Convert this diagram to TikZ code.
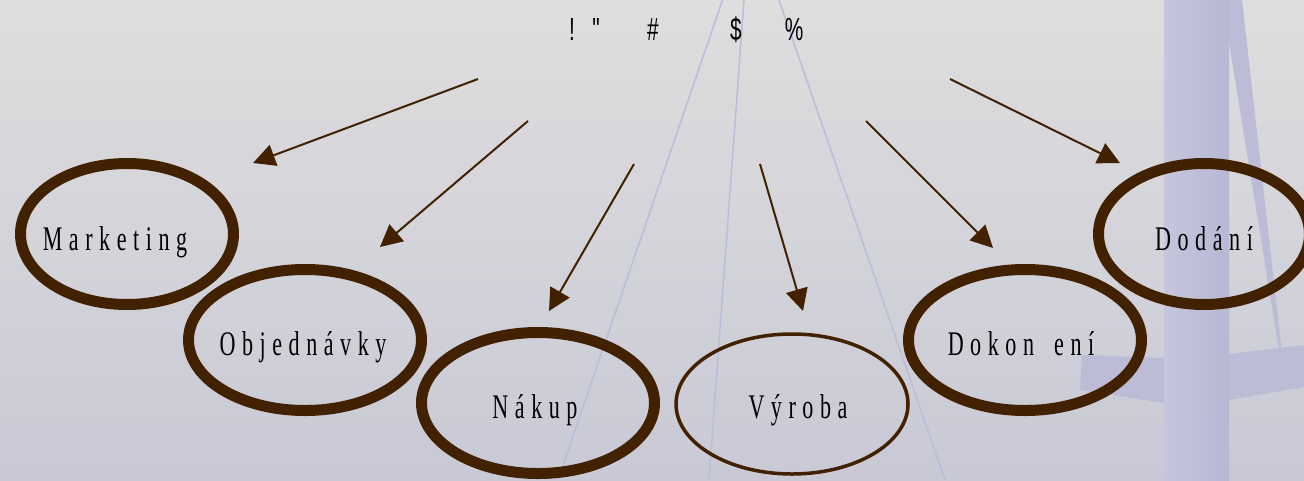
\documentclass[tikz,border=0pt]{standalone}
\usepackage{fontspec}
\usetikzlibrary{arrows.meta,shapes.geometric}
\newfontfamily\lblfont[FakeStretch=0.64,LetterSpace=19]{Liberation Serif}
\newfontfamily\topfont[FakeStretch=0.65]{Liberation Sans}
\definecolor{brn}{RGB}{66,33,0}
\definecolor{lav}{RGB}{188,188,218}
\definecolor{barl}{RGB}{198,197,221}
\definecolor{barr}{RGB}{184,184,212}
\definecolor{bandc}{RGB}{189,188,215}
\definecolor{bgtop}{RGB}{222,222,222}
\definecolor{bgbot}{RGB}{201,201,214}
\begin{document}
\begin{tikzpicture}[x=1pt,y=-1pt,
  ell/.style={draw=brn, ellipse, line width=11pt, inner sep=0pt},
  thinell/.style={draw=brn, ellipse, line width=3.5pt, inner sep=0pt},
  lbl/.style={anchor=base, inner sep=0pt, font=\lblfont\fontsize{34.5}{40}\selectfont},
  sym/.style={anchor=base, inner sep=0pt, font=\topfont\fontsize{32}{36}\selectfont},
  arr/.style={draw=brn, line width=2pt, -{Triangle[length=22pt,width=22pt]}},
  bgline/.style={draw=lav, line width=1.5pt}]
\useasboundingbox (0,0) rectangle (1304,480);
% background
\shade[top color=bgtop, bottom color=bgbot] (0,0) rectangle (1304,480);
\draw[bgline] (722.5,0) -- (558,480);
\draw[bgline] (744,0) -- (709,480);
\draw[bgline] (779,0) -- (945,480);
\fill[bandc] (1222,0) -- (1242,0) -- (1283,362) -- (1279,350) -- cycle;
\fill[bandc] (1082,355) -- (1164,358) -- (1164,403) -- (1080,390) -- cycle;
\fill[bandc] (1229,354) -- (1304,345) -- (1304,387) -- (1229,400) -- cycle;
\shade[left color=barl, right color=barr] (1164,0) rectangle (1229,480);
% top symbols
\node[sym] (t1) at (572,40) {!};
\node[sym] (t2) at (596,40) {\char"22};
\node[sym] (t3) at (653,40) {\#};
\node[sym] (t4) at (736,40) {\$};
\node[sym] (t5) at (794,40) {\%};
% ellipses
\node[ell, minimum width=213pt, minimum height=141pt] (mk) at (127,234) {};
\node[ell, minimum width=233pt, minimum height=141pt] (ob) at (305,340) {};
\node[ell, minimum width=233pt, minimum height=141pt] (na) at (538,403) {};
\node[thinell, minimum width=232pt, minimum height=140pt] (vy) at (792,404) {};
\node[ell, minimum width=233pt, minimum height=141pt] (dk) at (1025,340) {};
\node[ell, minimum width=211pt, minimum height=141pt] (dd) at (1204,234) {};
% labels
\node[lbl] (lmk) at (115,250) {Marketing};
\node[lbl] (lob) at (303,355) {Objednávky};
\node[lbl] (lna) at (535,418) {Nákup};
\node[lbl] (lvy) at (798,418) {Výroba};
\node[lbl] (ldk) at (1021,355) {Dokon\hspace{8pt} ení};
\node[lbl] (ldd) at (1204,250) {Dodání};
% arrows
\coordinate (a1) at (478,79);  \coordinate (b1) at (253,163);
\coordinate (a2) at (528,121); \coordinate (b2) at (380,247);
\coordinate (a3) at (634,164); \coordinate (b3) at (549,311);
\coordinate (a4) at (760,164); \coordinate (b4) at (803,311);
\coordinate (a5) at (866,121); \coordinate (b5) at (993,248);
\coordinate (a6) at (950,79);  \coordinate (b6) at (1120,163);
\draw[arr] (a1) -- (b1);
\draw[arr] (a2) -- (b2);
\draw[arr] (a3) -- (b3);
\draw[arr] (a4) -- (b4);
\draw[arr] (a5) -- (b5);
\draw[arr] (a6) -- (b6);
\end{tikzpicture}
\end{document}
